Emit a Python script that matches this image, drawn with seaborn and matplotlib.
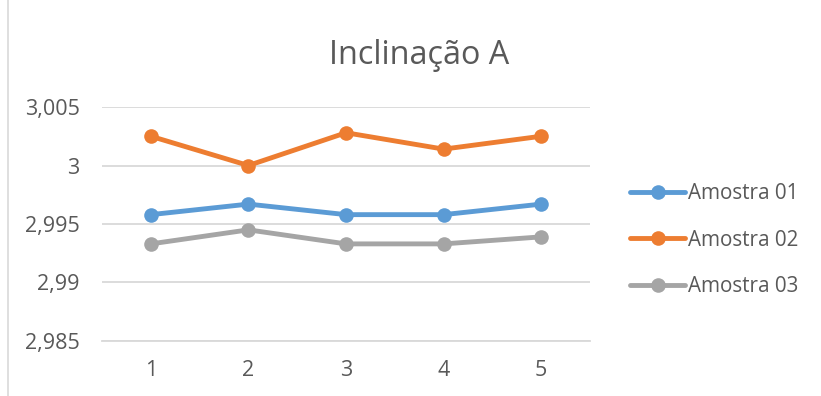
import matplotlib
matplotlib.use("Agg")
import matplotlib.pyplot as plt
from matplotlib.lines import Line2D
import seaborn as sns
import pandas as pd

categories = [1, 2, 3, 4, 5]
series_names = ["Amostra 01", "Amostra 02", "Amostra 03"]
amostra_01 = [2.9958, 2.9967, 2.9958, 2.9958, 2.9967]
amostra_02 = [3.0025, 3.0000, 3.0028, 3.0014, 3.0025]
amostra_03 = [2.9933, 2.9945, 2.9933, 2.9933, 2.9939]
y_ticks = [2.985, 2.99, 2.995, 3.0, 3.005]
y_tick_labels = ["2,985", "2,99", "2,995", "3", "3,005"]
title = "Inclinação A"

colors = ["#5B9BD5", "#ED7D31", "#A5A5A5"]
text_color = "#595959"
grid_color = "#D9D9D9"

rows = []
for name, vals in zip(series_names, [amostra_01, amostra_02, amostra_03]):
    for c, v in zip(categories, vals):
        rows.append({"x": c, "y": v, "serie": name})
df = pd.DataFrame(rows)

sns.set_theme(style="white")
plt.rcParams["font.family"] = ["Open Sans", "DejaVu Sans"]

W, H = 821, 396
fig = plt.figure(figsize=(W / 100, H / 100), dpi=100)
ax = fig.add_axes([102 / W, 1 - 341 / H, (590 - 102) / W, (341 - 107) / H])

sns.lineplot(data=df, x="x", y="y", hue="serie", palette=colors,
             marker="o", markersize=10.5, markeredgewidth=0, linewidth=3.5,
             ax=ax, legend=False, zorder=3)

ax.set_xlim(0.5, 5.5)
ax.set_ylim(2.985, 3.005)
ax.set_xticks(categories)
ax.set_xticklabels([str(c) for c in categories])
ax.set_yticks(y_ticks)
ax.set_yticklabels(y_tick_labels)
ax.set_xlabel("")
ax.set_ylabel("")
ax.yaxis.grid(True, color=grid_color, linewidth=1.3, zorder=0)
ax.xaxis.grid(False)
for s in ["top", "right", "left"]:
    ax.spines[s].set_visible(False)
ax.spines["bottom"].set_color(grid_color)
ax.spines["bottom"].set_linewidth(1.3)
ax.tick_params(axis="both", length=0, colors=text_color, labelsize=15.5)
ax.tick_params(axis="y", pad=16)
ax.tick_params(axis="x", pad=14)
ax.set_facecolor("white")

fig.text(419 / W, 1 - 55 / H, title, ha="center", va="center",
         fontsize=23.3, color=text_color)

handles = [Line2D([0], [0], color=c, linewidth=3.5, marker="o", markersize=10.5,
                  markeredgewidth=0, solid_capstyle="round") for c in colors]
leg = fig.legend(handles, series_names, loc="center left",
                 bbox_to_anchor=(622 / W, 1 - 240 / H), frameon=False,
                 fontsize=14.9, labelcolor=text_color, handlelength=2.65,
                 handletextpad=0.12, labelspacing=1.22, borderaxespad=0)

fig.add_artist(Line2D([8 / W, 8 / W], [0, 1], color=grid_color, linewidth=1.2,
                      transform=fig.transFigure))

fig.savefig("out.png", dpi=100, facecolor="white")
